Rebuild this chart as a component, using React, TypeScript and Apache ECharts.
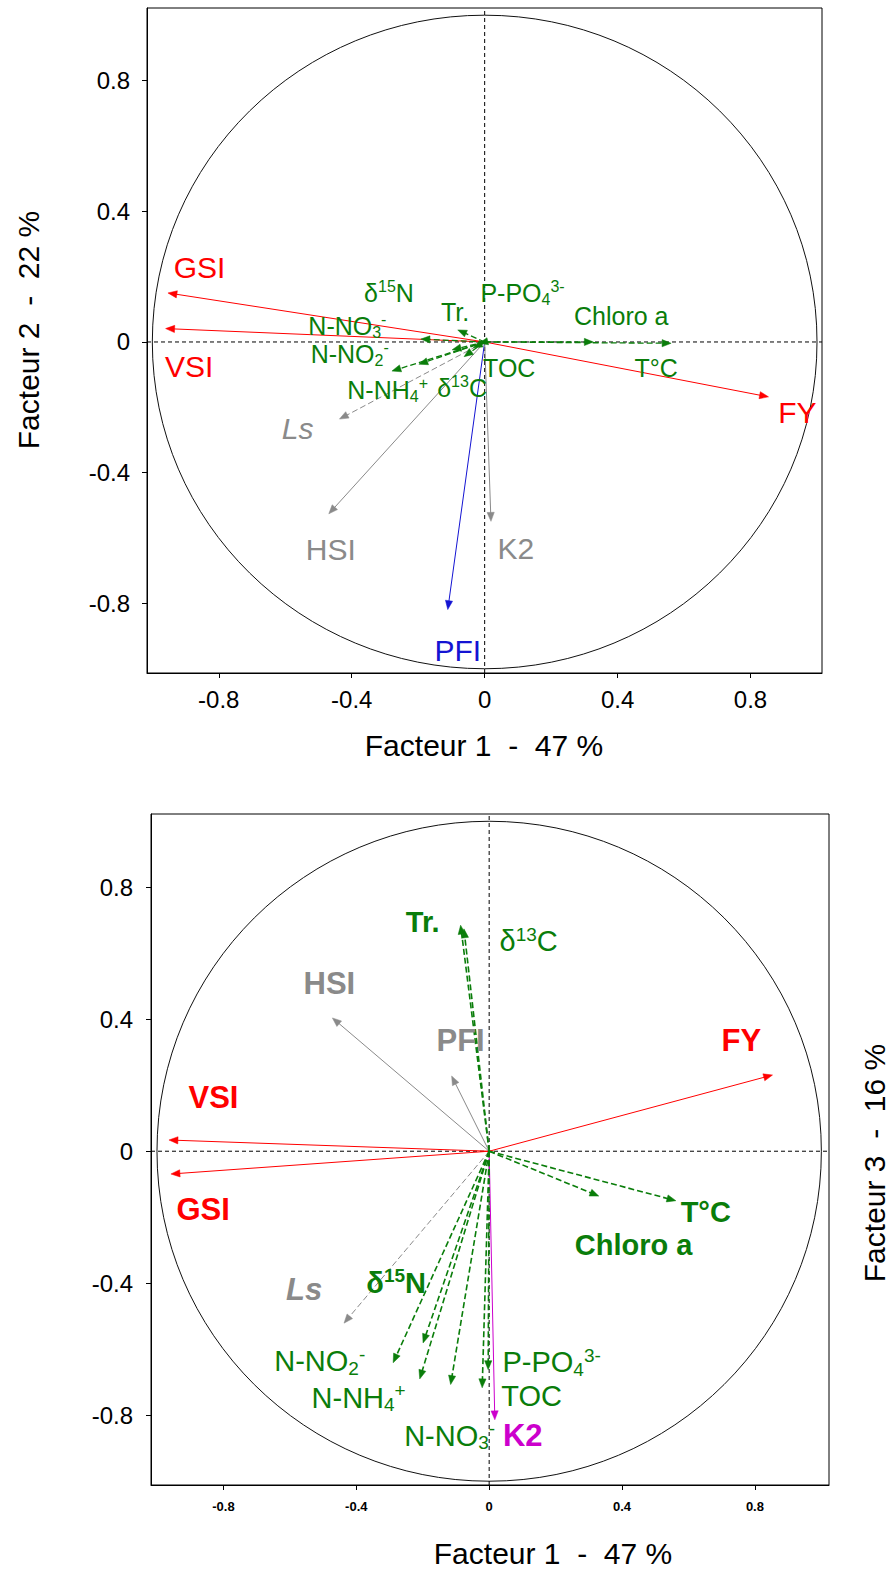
import React, { useEffect, useRef } from 'react';
import * as echarts from 'echarts';

const FONT = '"Liberation Sans", Arial, Helvetica, sans-serif';

// Variable names (same order in both panels)
const VAR_NAMES = ['GSI', 'VSI', 'FY', 'PFI', 'HSI', 'K2', 'Ls', 'δ15N', 'Tr.', 'P-PO43-', 'Chloro a', 'N-NO3-', 'N-NO2-', 'TOC', 'T°C', 'N-NH4+', 'δ13C'];

// Panel 1: Facteur 1 vs Facteur 2 (arrow tips)
const TOP_F1 = [-0.953, -0.960, 0.854, -0.111, -0.469, 0.019, -0.437, -0.098, -0.081, -0.017, 0.327, -0.192, -0.279, -0.034, 0.561, -0.198, -0.062];
const TOP_F2 = [0.150, 0.041, -0.168, -0.819, -0.526, -0.549, -0.236, -0.024, 0.037, -0.004, 0.0, 0.009, -0.089, -0.018, -0.004, -0.068, -0.045];
// Panel 1 label anchors
const TOP_LX = [-0.858, -0.889, 0.941, -0.081, -0.463, 0.094, -0.563, -0.288, -0.089, 0.114, 0.411, -0.413, -0.406, 0.074, 0.516, -0.292, -0.068];
const TOP_LY = [0.228, -0.075, -0.215, -0.944, -0.634, -0.631, -0.266, 0.150, 0.091, 0.150, 0.078, 0.050, -0.038, -0.079, -0.079, -0.147, -0.140];

// Panel 2: Facteur 1 vs Facteur 3 (arrow tips)
const BOT_F1 = [-0.958, -0.964, 0.853, -0.113, -0.472, 0.017, -0.437, -0.199, -0.086, -0.003, 0.330, -0.116, -0.289, -0.021, 0.562, -0.209, -0.076];
const BOT_F3 = [-0.069, 0.034, 0.231, 0.228, 0.404, -0.814, -0.521, -0.581, 0.685, -0.662, -0.136, -0.707, -0.641, -0.717, -0.150, -0.690, 0.674];
// Panel 2 label anchors
const BOT_LX = [-0.861, -0.830, 0.759, -0.086, -0.481, 0.101, -0.557, -0.280, -0.200, 0.188, 0.435, -0.119, -0.510, 0.128, 0.652, -0.393, 0.119];
const BOT_LY = [-0.177, 0.163, 0.336, 0.336, 0.508, -0.863, -0.419, -0.398, 0.694, -0.640, -0.285, -0.863, -0.637, -0.743, -0.184, -0.747, 0.636];

const TICKS = [-0.8, -0.4, 0, 0.4, 0.8];
const TOP_XR = [-1.016, 1.015];
const TOP_YR = [-1.013, 1.022];
const BOT_XR = [-1.018, 1.023];
const BOT_YR = [-1.0115, 1.022];

const RED = '#ff0000';
const GREEN = '#0a7d0a';
const BLUE = '#1414d2';
const GRAY = '#8a8a8a';
const MAGENTA = '#cc00cc';

const KIND: Record<string, string> = { GSI: 'red', VSI: 'red', FY: 'red', PFI: 'pfi', HSI: 'gray', K2: 'k2', Ls: 'ls' };

const RICH_TEXT: Record<string, string> = {
  'δ15N': '{m|δ}{sp|15}{m|N}',
  'δ13C': '{m|δ}{sp|13}{m|C}',
  'P-PO43-': '{m|P-PO}{sb|4}{sp|3-}',
  'N-NO3-': '{m|N-NO}{sb|3}{sp|-}',
  'N-NO2-': '{m|N-NO}{sb|2}{sp|-}',
  'N-NH4+': '{m|N-NH}{sb|4}{sp|+}',
};

const BOLD_GREEN_BOTTOM = ['Tr.', 'Chloro a', 'T°C', 'δ15N'];

function styleOf(panel: number, name: string) {
  const k = KIND[name] || 'green';
  let color = GREEN;
  let dashed = false;
  if (k === 'red') color = RED;
  else if (k === 'pfi') color = panel === 0 ? BLUE : GRAY;
  else if (k === 'gray') color = GRAY;
  else if (k === 'k2') color = panel === 0 ? GRAY : MAGENTA;
  else if (k === 'ls') { color = GRAY; dashed = true; }
  else { color = GREEN; dashed = true; }
  const isGreen = k === 'green';
  let size: number;
  let weight = 'normal';
  if (panel === 0) {
    size = isGreen ? 25 : 30;
  } else {
    size = isGreen ? 29 : 31;
    weight = isGreen ? (BOLD_GREEN_BOTTOM.includes(name) ? 'bold' : 'normal') : 'bold';
  }
  const italic = k === 'ls' ? 'italic' : 'normal';
  return { color, dashed, isGreen, size, weight, italic };
}

function arrowSeries(panel: number, xs: number[], ys: number[]) {
  return {
    type: 'custom',
    xAxisIndex: panel,
    yAxisIndex: panel,
    clip: false,
    silent: true,
    z: 3,
    data: xs.map((x, i) => [x, ys[i]]),
    renderItem: (params: any, api: any) => {
      const name = VAR_NAMES[params.dataIndex];
      const st = styleOf(panel, name);
      const p0 = api.coord([0, 0]);
      const p1 = api.coord([api.value(0), api.value(1)]);
      const dx = p1[0] - p0[0];
      const dy = p1[1] - p0[1];
      const len = Math.hypot(dx, dy) || 1;
      const ux = dx / len;
      const uy = dy / len;
      const hl = 9;
      const hw = 3.6;
      const bx = p1[0] - ux * hl;
      const by = p1[1] - uy * hl;
      const lw = st.isGreen ? (panel === 0 ? 1.3 : 1.6) : 1;
      const dash = st.dashed ? [6, 3] : null;
      return {
        type: 'group',
        children: [
          {
            type: 'line',
            shape: { x1: p0[0], y1: p0[1], x2: bx + ux * 1, y2: by + uy * 1 },
            style: { stroke: st.color, lineWidth: lw, lineDash: dash, fill: null },
          },
          {
            type: 'polygon',
            shape: { points: [[p1[0], p1[1]], [bx - uy * hw, by + ux * hw], [bx + uy * hw, by - ux * hw]] },
            style: { fill: st.color, stroke: st.color, lineWidth: 0.5 },
          },
        ],
      };
    },
  };
}

function labelSeries(panel: number, xs: number[], ys: number[]) {
  return {
    type: 'custom',
    xAxisIndex: panel,
    yAxisIndex: panel,
    clip: false,
    silent: true,
    z: 5,
    data: xs.map((x, i) => [x, ys[i]]),
    renderItem: (params: any, api: any) => {
      const name = VAR_NAMES[params.dataIndex];
      const st = styleOf(panel, name);
      const p = api.coord([api.value(0), api.value(1)]);
      const F = st.size;
      const small = Math.round(F * 0.64);
      const base = { fontFamily: FONT, fontWeight: st.weight, fontStyle: st.italic, fill: st.color };
      return {
        type: 'text',
        x: p[0],
        y: p[1],
        style: {
          text: RICH_TEXT[name] || `{m|${name}}`,
          align: 'center',
          verticalAlign: 'middle',
          fontSize: F,
          fontFamily: FONT,
          fill: st.color,
          rich: {
            m: { ...base, fontSize: F, lineHeight: Math.round(F * 1.15), verticalAlign: 'middle' },
            sp: { ...base, fontSize: small, lineHeight: small, verticalAlign: 'top' },
            sb: { ...base, fontSize: small, lineHeight: small, verticalAlign: 'bottom' },
          },
        },
      };
    },
  };
}

function circleSeries(panel: number) {
  return {
    type: 'custom',
    xAxisIndex: panel,
    yAxisIndex: panel,
    clip: false,
    silent: true,
    z: 1,
    data: [[0, 0]],
    renderItem: (_params: any, api: any) => {
      const c = api.coord([0, 0]);
      const s = api.size([1, 1]);
      return {
        type: 'ellipse',
        shape: { cx: c[0], cy: c[1], rx: s[0], ry: s[1] },
        style: { fill: null, stroke: '#111', lineWidth: 1 },
      };
    },
  };
}

function zeroLines(panel: number, xr: number[], yr: number[]) {
  const common = {
    type: 'line',
    xAxisIndex: panel,
    yAxisIndex: panel,
    symbol: 'none',
    silent: true,
    z: 2,
    lineStyle: { color: '#000', width: 1, type: [4, 3] },
  };
  return [
    { ...common, data: [[xr[0], 0], [xr[1], 0]] },
    { ...common, data: [[0, yr[0]], [0, yr[1]]] },
  ];
}

const fmt = (v: number) => (v === 0 ? '0' : String(v));

function xAxisCfg(gridIndex: number, range: number[], size: number, weight: string, margin: number) {
  return {
    type: 'value',
    gridIndex,
    min: range[0],
    max: range[1],
    position: 'bottom',
    axisLine: { show: true, onZero: false, lineStyle: { color: '#000', width: 1 } },
    axisTick: { show: true, customValues: TICKS, length: 5, lineStyle: { color: '#000' } },
    axisLabel: { show: true, customValues: TICKS, fontSize: size, fontWeight: weight, fontFamily: FONT, color: '#000', margin, formatter: fmt },
    splitLine: { show: false },
  };
}

function yAxisCfg(gridIndex: number, range: number[], size: number, margin: number) {
  return {
    type: 'value',
    gridIndex,
    min: range[0],
    max: range[1],
    position: 'left',
    axisLine: { show: true, onZero: false, lineStyle: { color: '#000', width: 1 } },
    axisTick: { show: true, customValues: TICKS, length: 5, lineStyle: { color: '#000' } },
    axisLabel: { show: true, customValues: TICKS, fontSize: size, fontFamily: FONT, color: '#000', margin, formatter: fmt },
    splitLine: { show: false },
  };
}

function title(text: string, x: number, y: number, rotated: boolean) {
  return {
    type: 'text',
    x,
    y,
    rotation: rotated ? Math.PI / 2 : 0,
    silent: true,
    style: {
      text,
      fontSize: 30,
      fontFamily: FONT,
      fill: '#000',
      align: 'center',
      verticalAlign: 'middle',
    },
  };
}

function buildOption() {
  return {
    animation: false,
    backgroundColor: '#fff',
    textStyle: { fontFamily: FONT },
    grid: [
      { left: 147, top: 8, width: 675, height: 665, show: true, borderColor: '#000', borderWidth: 1, backgroundColor: 'transparent' },
      { left: 151, top: 814, width: 678, height: 671, show: true, borderColor: '#000', borderWidth: 1, backgroundColor: 'transparent' },
    ],
    xAxis: [xAxisCfg(0, TOP_XR, 24, 'normal', 14), xAxisCfg(1, BOT_XR, 13, 'bold', 15)],
    yAxis: [yAxisCfg(0, TOP_YR, 24, 17), yAxisCfg(1, BOT_YR, 24, 18)],
    series: [
      ...zeroLines(0, TOP_XR, TOP_YR),
      circleSeries(0),
      arrowSeries(0, TOP_F1, TOP_F2),
      labelSeries(0, TOP_LX, TOP_LY),
      ...zeroLines(1, BOT_XR, BOT_YR),
      circleSeries(1),
      arrowSeries(1, BOT_F1, BOT_F3),
      labelSeries(1, BOT_LX, BOT_LY),
    ],
    graphic: [
      title('Facteur 1  -  47 %', 484, 745, false),
      title('Facteur 2  -  22 %', 28, 330, true),
      title('Facteur 1  -  47 %', 553, 1553, false),
      title('Facteur 3  -  16 %', 874, 1163, true),
    ],
  };
}

export default function App() {
  const ref = useRef<HTMLDivElement>(null);
  useEffect(() => {
    document.body.style.margin = '0';
    const chart = echarts.init(ref.current as HTMLDivElement, null, { renderer: 'svg' });
    chart.setOption(buildOption() as any);
    return () => chart.dispose();
  }, []);
  return <div ref={ref} style={{ width: 892, height: 1569 }} />;
}
